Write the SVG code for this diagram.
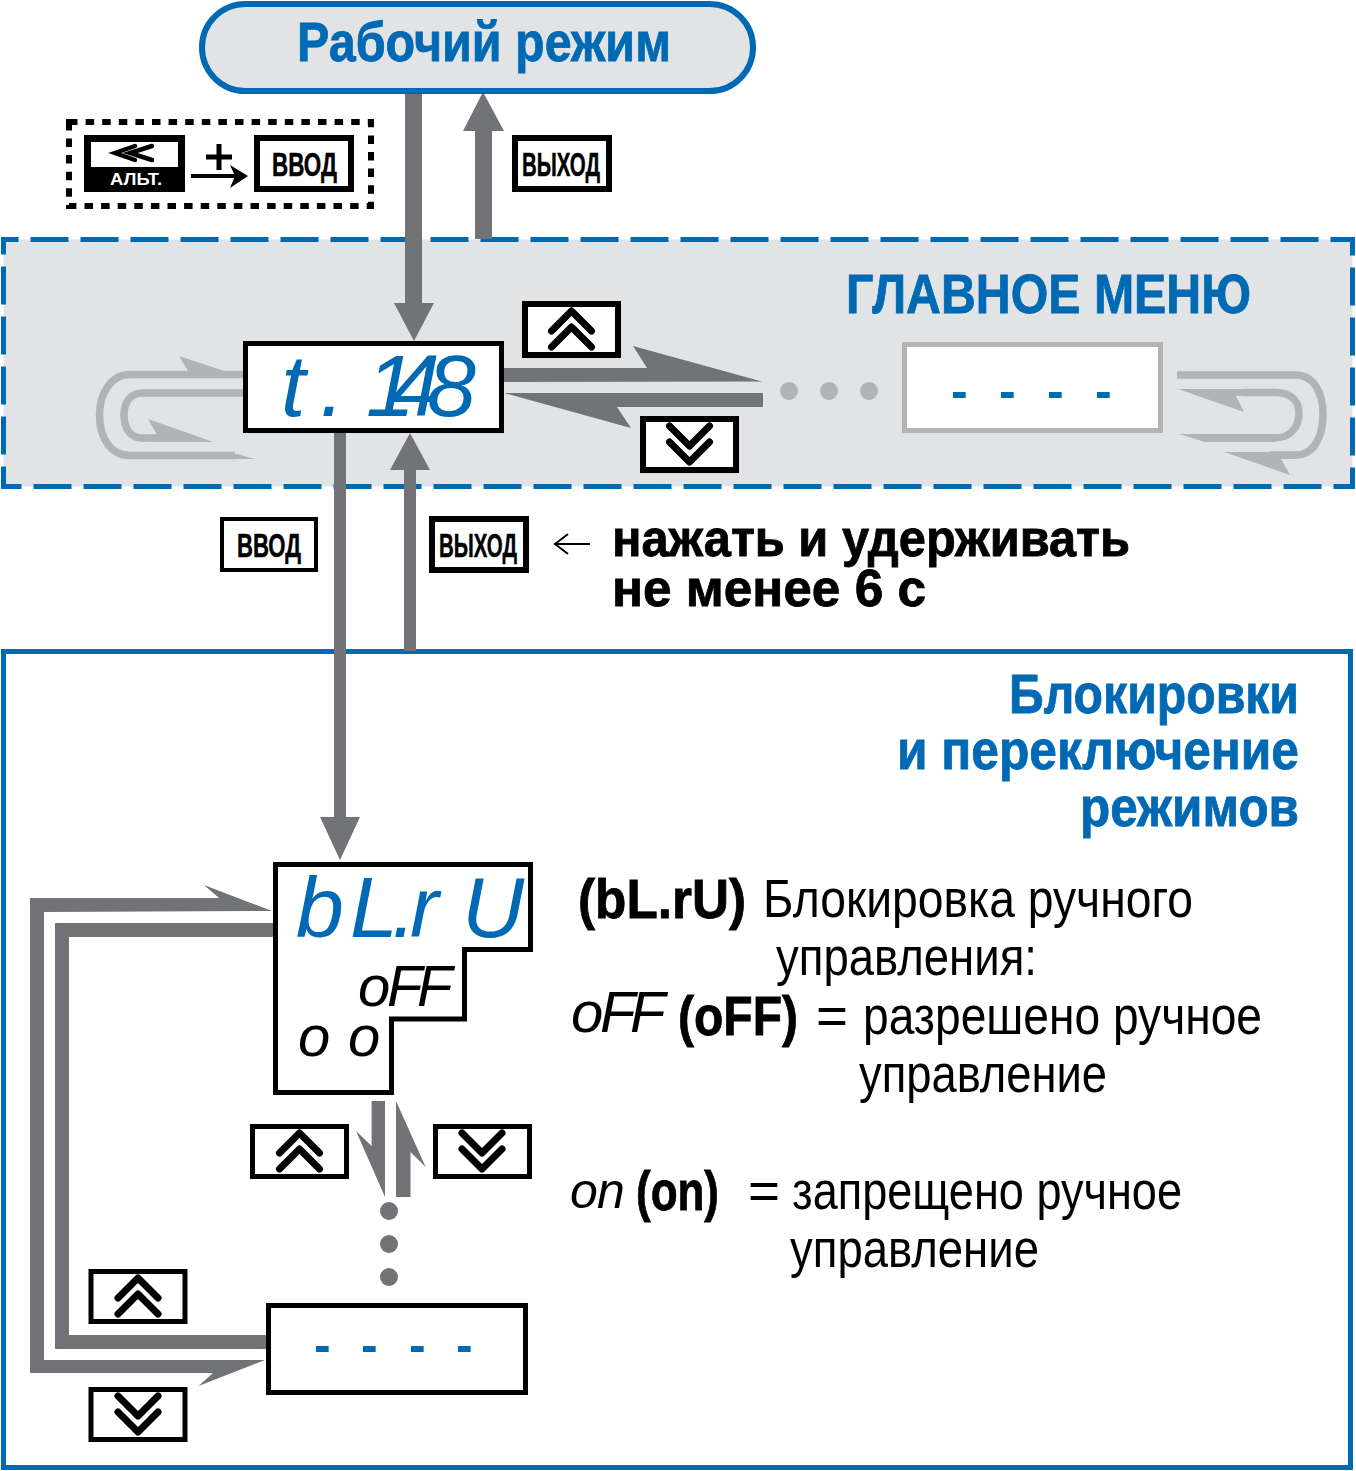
<svg xmlns="http://www.w3.org/2000/svg" width="1356" height="1471" viewBox="0 0 1356 1471">
<style>
text{font-family:"Liberation Sans Narrow","Liberation Sans",Arial,sans-serif}
.blue{fill:#0069B4}
.t54{font-size:55px;font-weight:700;stroke:#000;stroke-width:.8}
.t54.blue{stroke:#0069B4}
.t50{font-size:52px;font-weight:700;stroke:#000;stroke-width:.8}
.r52{font-size:54px}
.k{fill:#fff;stroke:#000;stroke-width:5}
.k6{fill:#fff;stroke:#000;stroke-width:6}
.kt{font-size:33px;font-weight:700;fill:#000;stroke:#000;stroke-width:.5}
.ch{fill:none;stroke:#000;stroke-width:7;stroke-linecap:round;stroke-linejoin:round}
.g{fill:#727376}
.lg{fill:#B2B3B5}
.ls{fill:none;stroke:#B2B3B5;stroke-width:7.5}
.seg{font-family:"Liberation Sans Narrow","Liberation Sans",sans-serif;font-style:italic}
.dash{font-family:"Liberation Sans",Arial,sans-serif;font-weight:700;font-size:50px;fill:#0069B4}
</style>
<defs>
<g id="up" class="ch"><path d="M-20 20L0 0L20 20"/><path d="M-20 36L0 16L20 36"/></g>
<g id="dn" class="ch"><path d="M-20 0L0 20L20 0"/><path d="M-20 16L0 36L20 16"/></g>
</defs>
<rect width="1356" height="1471" fill="#fff"/>
<g id="panel-main"><rect x="3.5" y="239.5" width="1349" height="247" fill="#E2E3E5" stroke="#0069B4" stroke-width="5" stroke-dasharray="38 12" stroke-dashoffset="23"/>
<text class="t54 blue" x="846" y="313" textLength="405" lengthAdjust="spacingAndGlyphs">ГЛАВНОЕ МЕНЮ</text></g>
<g id="panel-lock"><rect x="3.5" y="651.5" width="1347" height="816" fill="none" stroke="#0069B4" stroke-width="5"/>
<text class="t54 blue" x="1009" y="713" textLength="290" lengthAdjust="spacingAndGlyphs">Блокировки</text>
<text class="t54 blue" x="897" y="769" textLength="402" lengthAdjust="spacingAndGlyphs">и переключение</text>
<text class="t54 blue" x="1080" y="826" textLength="219" lengthAdjust="spacingAndGlyphs">режимов</text></g>
<g id="connectors">
<polygon class="g" points="405,91 422,91 422,303 434,303 414,341 394,303 405,303"/>
<polygon class="g" points="475,239 475,131 463,131 483,92 504,131 492,131 492,239"/>
<polygon class="g" points="334,433 346,433 346,817 360,817 340,860 320,817 334,817"/>
<polygon class="g" points="404,651 404,470 390,470 410,433 430,470 416,470 416,651"/>
<polygon class="g" points="504,368 647,368 633,346 762,381.5 504,382"/>
<polygon class="g" points="763,393 504,393 631,428 617,407 763,407"/>
<circle class="lg" cx="789" cy="391" r="9"/><circle class="lg" cx="829" cy="391" r="9"/><circle class="lg" cx="869" cy="391" r="9"/>
<path class="ls" d="M243 374.500H130C110 374.500 99.500 395 99.500 415C99.500 437 110 455.500 130 455.500H235"/>
<polygon class="lg" points="179,356 243,377 243,378 185,378 188,371"/>
<polygon class="lg" points="229,452 255,459 200,459 200,452"/>
<path class="ls" d="M243 393H142C130 393 124 403 124 415C124 428 130 438 142 438H165"/>
<polygon class="lg" points="148,419 213.500,442 150,442 156.500,434"/>
<path class="ls" d="M1177 375H1296C1315 375 1323 395 1323 414C1323 435 1315 455 1296 455H1270"/>
<polygon class="lg" points="1224,452 1296,452 1296,459 1281,459 1290,475"/>
<path class="ls" d="M1205 438H1275C1292 438 1299 425 1299 413C1299 402 1292 392.500 1275 392.500H1245"/>
<polygon class="lg" points="1178,389 1270,389 1270,396 1236,396 1244,412"/>
<polygon class="lg" points="1179,434 1275,434 1275,442 1205,442"/>
<polygon class="g" points="272,911 44,912 44,1360 265,1360 198.500,1386 213,1373 30,1373 30,898 219,898 204,885"/>
<path d="M274 930H62V1342H267" fill="none" stroke="#727376" stroke-width="14"/>
<polygon class="g" points="371.600,1101 385,1101 385,1197 356,1131 371.600,1146"/>
<polygon class="g" points="396,1101 425.700,1167 410.500,1152 410.500,1197 396,1197"/>
<circle class="g" cx="389" cy="1211" r="9"/><circle class="g" cx="389" cy="1244" r="9"/><circle class="g" cx="389" cy="1277" r="9"/>
<path d="M191 176H236" stroke="#000" stroke-width="4" fill="none"/>
<polygon points="248,176 230,165 235,176 230,188" fill="#000"/>
<path d="M554 544H590" stroke="#000" stroke-width="2" fill="none"/>
<path d="M568 534L555 544L568 554" stroke="#000" stroke-width="2" fill="none"/>
</g>
<g id="mode"><rect x="202" y="4" width="551" height="87" rx="43.500" fill="#E2E3E5" stroke="#0069B4" stroke-width="6"/>
<text class="t54 blue" x="297" y="61" textLength="374" lengthAdjust="spacingAndGlyphs">Рабочий режим</text></g>
<g id="combo"><rect x="69" y="122" width="302" height="84" fill="none" stroke="#000" stroke-width="6" stroke-dasharray="8.500 8.100"/>
<rect x="84" y="135" width="101" height="57" fill="#000"/><rect x="91" y="142" width="87" height="25" fill="#fff"/>
<path d="M135 146L115 153L135 160M152 146L130 153L152 160" fill="none" stroke="#000" stroke-width="4.500" stroke-linecap="round"/>
<text x="110" y="185" textLength="52" lengthAdjust="spacingAndGlyphs" style="font-family:'Liberation Sans',Arial,sans-serif;font-weight:700;font-size:17px" fill="#fff">АЛЬТ.</text>
<path d="M206 157H232M219 144V170" stroke="#000" stroke-width="5"/>
<rect class="k6" x="257" y="138" width="94" height="51"/>
<text class="kt" x="272" y="176" textLength="65" lengthAdjust="spacingAndGlyphs">ВВОД</text></g>
<g id="key-exit-1"><rect class="k6" x="515" y="138" width="94" height="51"/><text class="kt" x="522" y="176" textLength="78" lengthAdjust="spacingAndGlyphs">ВЫХОД</text></g>
<g id="key-enter-2"><rect class="k" x="222" y="519" width="94" height="51" style="stroke-width:4"/><text class="kt" x="237" y="557" textLength="64" lengthAdjust="spacingAndGlyphs">ВВОД</text></g>
<g id="key-exit-2"><rect class="k6" x="432" y="519" width="94" height="51"/><text class="kt" x="439" y="557" textLength="78" lengthAdjust="spacingAndGlyphs">ВЫХОД</text></g>
<g id="key-up-1"><rect class="k6" x="525" y="304" width="93" height="51"/><use href="#up" x="571.500" y="311"/></g>
<g id="key-down-1"><rect class="k6" x="643" y="419" width="93" height="51"/><use href="#dn" x="689.500" y="426"/></g>
<g id="key-up-2"><rect class="k" x="252.500" y="1126.500" width="94" height="50"/><use href="#up" x="299.500" y="1133"/></g>
<g id="key-down-2"><rect class="k" x="435.500" y="1126.500" width="94" height="50"/><use href="#dn" x="482" y="1133"/></g>
<g id="key-up-3"><rect class="k" x="91" y="1271.500" width="94" height="50"/><use href="#up" x="138" y="1278"/></g>
<g id="key-down-3"><rect class="k" x="91" y="1389.500" width="94" height="50"/><use href="#dn" x="138" y="1396"/></g>
<g id="node-t148"><rect class="k" x="245.500" y="343.500" width="256" height="87"/>
<text class="seg blue" font-size="88" x="281 320 345 366 391 427" y="416">t. 148</text></g>
<g id="node-end-main"><rect x="904.500" y="344.500" width="256" height="86" fill="#fff" stroke="#B2B3B5" stroke-width="5"/>
<text class="dash" x="951 975 999 1023 1047 1071 1095" y="408">- - - -</text></g>
<g id="node-blru"><path class="k" d="M275.500 864.500H530.500V949.500H464.500V1019H391.500V1092.500H275.500Z"/>
<text class="seg blue" font-size="86" x="296 350 392 410 440 462" y="937">bL.r U</text>
<text class="seg" font-size="58" x="358 387 417" y="1006" fill="#000">oFF</text>
<text class="seg" font-size="58" x="298 325 348" y="1056" fill="#000">o o</text></g>
<g id="node-end-lock"><rect class="k" x="268.500" y="1305.500" width="257" height="87"/>
<text class="dash" x="314 338 361 385 409 433 456" y="1362">- - - -</text></g>
<g id="note-hold">
<text class="t50" x="612" y="556" textLength="518" lengthAdjust="spacingAndGlyphs">нажать и удерживать</text>
<text class="t50" x="612" y="606" textLength="314" lengthAdjust="spacingAndGlyphs">не менее 6 с</text></g>
<g id="note-blru">
<text class="t54" x="578" y="918" textLength="168" lengthAdjust="spacingAndGlyphs">(bL.rU)</text>
<text class="r52" x="763" y="917" textLength="430" lengthAdjust="spacingAndGlyphs">Блокировка ручного</text>
<text class="r52" x="776" y="975" textLength="261" lengthAdjust="spacingAndGlyphs">управления:</text>
<text class="seg" font-size="58" x="571 600 630" y="1032" fill="#000">oFF</text>
<text class="t54" x="678" y="1035" textLength="120" lengthAdjust="spacingAndGlyphs">(oFF)</text>
<text class="r52" x="816" y="1034" textLength="32" lengthAdjust="spacingAndGlyphs">=</text>
<text class="r52" x="863" y="1034" textLength="399" lengthAdjust="spacingAndGlyphs">разрешено ручное</text>
<text class="r52" x="859" y="1092" textLength="248" lengthAdjust="spacingAndGlyphs">управление</text>
<text class="seg" font-size="50" x="570 597" y="1208" fill="#000">on</text>
<text class="t54" x="636" y="1210" textLength="83" lengthAdjust="spacingAndGlyphs">(on)</text>
<text class="r52" x="748" y="1209" textLength="32" lengthAdjust="spacingAndGlyphs">=</text>
<text class="r52" x="792" y="1209" textLength="390" lengthAdjust="spacingAndGlyphs">запрещено ручное</text>
<text class="r52" x="790" y="1267" textLength="249" lengthAdjust="spacingAndGlyphs">управление</text></g>
</svg>
